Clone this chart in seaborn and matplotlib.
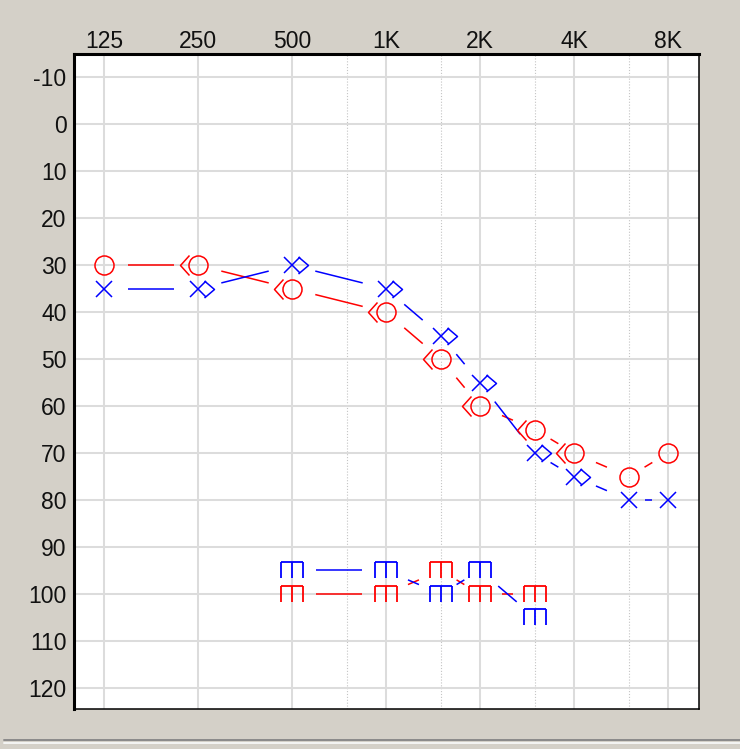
import numpy as np
import seaborn as sns
import matplotlib.pyplot as plt
from matplotlib.path import Path
from matplotlib.lines import Line2D
from matplotlib.ticker import FixedLocator, NullFormatter

# axis ticks
freq_ticks = [125, 250, 500, 1000, 2000, 4000, 8000]
freq_tick_labels = ['125', '250', '500', '1K', '2K', '4K', '8K']
half_octaves = [750, 1500, 3000, 6000]
db_ticks = list(range(-10, 121, 10))
db_tick_labels = ['-10'] + [str(v) for v in db_ticks[1:]]

# air conduction (right = red O, left = blue X)
freqs = [125, 250, 500, 1000, 1500, 2000, 3000, 4000, 6000, 8000]
right_ac = [30, 30, 35, 40, 50, 60, 65, 70, 75, 70]
left_ac = [35, 35, 30, 35, 45, 55, 70, 75, 80, 80]

# bone conduction (right = red <, left = blue >)
bc_freqs = [250, 500, 1000, 1500, 2000, 3000, 4000]
right_bc = [30, 35, 40, 50, 60, 65, 70]
left_bc = [35, 30, 35, 45, 55, 70, 75]

# bottom symbols
low_freqs = [500, 1000, 1500, 2000, 3000]
right_low = [100, 100, 95, 100, 100]
left_low = [95, 95, 100, 95, 105]

DPI = 100
PT = 72 / DPI  # points per pixel
RED = '#ff0000'
BLUE = '#0000ff'

M, L = Path.MOVETO, Path.LINETO
bracket_left = Path([(-9, 10), (-18, 0), (-9, -10)])
bracket_right = Path([(6, 8.5), (16, 0), (6, -8.5)])
comb = Path([(-11.5, 8), (11.5, 8), (-11.5, 8), (-11.5, -8),
             (0, 8), (0, -8), (11.5, 8), (11.5, -8)],
            [M, L, M, L, M, L, M, L])


def marker_size(path):
    return 2 * np.max(np.abs(path.vertices)) * PT


def connect(ax, xs, ys, color, gap=24):
    """Draw the connecting segments with a gap around each symbol."""
    pts = ax.transData.transform(np.column_stack([xs, ys]))
    inv = ax.transData.inverted()
    for p0, p1 in zip(pts[:-1], pts[1:]):
        d = p1 - p0
        length = np.hypot(*d)
        g = min(gap, 0.4 * length)
        u = d / length
        a, b = inv.transform([p0 + u * g, p1 - u * g])
        ax.plot([a[0], b[0]], [a[1], b[1]], color=color, lw=1.1,
                solid_capstyle='butt', zorder=2)


def symbols(ax, x, y, color, marker, size, mew=1.1):
    sns.lineplot(x=x, y=y, ax=ax, color=color, linestyle='none',
                 marker=marker, markersize=size, markerfacecolor='none',
                 markeredgecolor=color, markeredgewidth=mew, zorder=3)


sns.set_style('white')
plt.rcParams['font.family'] = ['Liberation Sans', 'DejaVu Sans']

fig = plt.figure(figsize=(740 / DPI, 749 / DPI), dpi=DPI, facecolor='#d4d0c8')
ax = fig.add_axes([73.5 / 740, 40 / 749, 625.5 / 740, 655.5 / 749])
ax.set_facecolor('white')

ax.set_xscale('log', base=2)
ax.set_xlim(99.8, 10060)
ax.set_ylim(124.5, -15.1)

ax.set_xticks(freq_ticks)
ax.set_xticklabels(freq_tick_labels)
ax.xaxis.set_minor_locator(FixedLocator(half_octaves))
ax.xaxis.set_minor_formatter(NullFormatter())
ax.set_yticks(db_ticks)
ax.set_yticklabels(db_tick_labels)
ax.xaxis.tick_top()
ax.tick_params(axis='both', which='both', length=0, labelsize=16.5,
               labelcolor='#111111')
ax.tick_params(axis='x', pad=0.5)
ax.tick_params(axis='y', pad=5)

ax.set_axisbelow(True)
ax.grid(True, which='major', axis='both', color='#dcdcdc', lw=1.45)
ax.grid(True, which='minor', axis='x', color='#c4c4c4', lw=0.8,
        linestyle=(0, (1, 1.6)))

for side in ['left', 'top']:
    ax.spines[side].set_linewidth(2.2)
    ax.spines[side].set_color('black')
for side in ['right', 'bottom']:
    ax.spines[side].set_linewidth(1.1)
    ax.spines[side].set_color('black')

# connecting lines
connect(ax, freqs, right_ac, RED)
connect(ax, freqs, left_ac, BLUE)
connect(ax, low_freqs, right_low, RED)
connect(ax, low_freqs, left_low, BLUE)

# symbols
symbols(ax, freqs, right_ac, RED, 'o', 13.7)
symbols(ax, freqs, left_ac, BLUE, 'x', 12.2)
symbols(ax, bc_freqs, right_bc, RED, bracket_left, marker_size(bracket_left))
symbols(ax, bc_freqs, left_bc, BLUE, bracket_right, marker_size(bracket_right))
symbols(ax, low_freqs, right_low, RED, comb, marker_size(comb), mew=1.3)
symbols(ax, low_freqs, left_low, BLUE, comb, marker_size(comb), mew=1.3)

ax.set_xlabel('')
ax.set_ylabel('')

# window edge at the bottom
fig.add_artist(Line2D([4 / 740, 1], [1 - 740 / 749] * 2, color='#8a8a8a', lw=1.4))
fig.add_artist(Line2D([4 / 740, 1], [1 - 742.5 / 749] * 2, color='#f4f4f4', lw=1.4))

fig.savefig('out.png', dpi=DPI, facecolor=fig.get_facecolor())
